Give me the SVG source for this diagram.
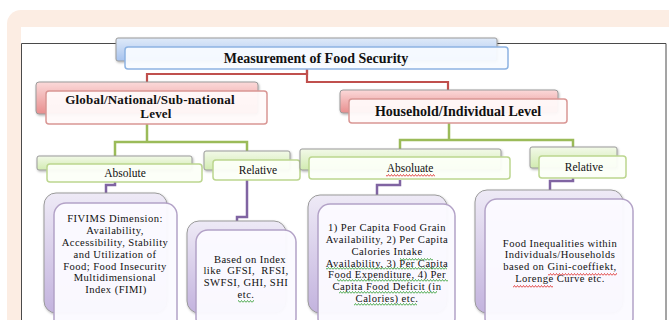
<svg xmlns="http://www.w3.org/2000/svg" width="669" height="320" viewBox="0 0 669 320">
<defs>
<linearGradient id="gBlue" x1="0" y1="0" x2="0" y2="1"><stop offset="0" stop-color="#dfeaf9"/><stop offset="1" stop-color="#a7c3ee"/></linearGradient>
<linearGradient id="gRed" x1="0" y1="0" x2="0" y2="1"><stop offset="0" stop-color="#fbd9d9"/><stop offset="1" stop-color="#e88e8e"/></linearGradient>
<linearGradient id="gGreen" x1="0" y1="0" x2="0" y2="1"><stop offset="0" stop-color="#f2f9e8"/><stop offset="1" stop-color="#d2ebb1"/></linearGradient>
<linearGradient id="gPurple" x1="0" y1="0" x2="0" y2="1"><stop offset="0" stop-color="#eeeaf6"/><stop offset="1" stop-color="#c3b3de"/></linearGradient>
<filter id="sh" x="-10%" y="-10%" width="130%" height="140%"><feDropShadow dx="0.8" dy="1.2" stdDeviation="1" flood-color="#000" flood-opacity="0.3"/></filter>
<pattern id="sqR" width="3" height="3" patternUnits="userSpaceOnUse"><path d="M0,2.5 L1.5,0.5 L3,2.5" fill="none" stroke="#e03a3a" stroke-width="0.9"/></pattern>
<pattern id="sqG" width="3" height="3" patternUnits="userSpaceOnUse"><path d="M0,2.5 L1.5,0.5 L3,2.5" fill="none" stroke="#3fa43f" stroke-width="0.9"/></pattern>
</defs>
<style>
.back{stroke:#9a9a9a;stroke-width:1;filter:url(#sh)}
.fb{fill:#f8fbff;fill-opacity:0.95;stroke:#8db3e2;stroke-width:1.5}
.fr{fill:#fffafa;fill-opacity:0.95;stroke:#d99694;stroke-width:1.5}
.fg{fill:#fcfff8;fill-opacity:0.95;stroke:#bcd68f;stroke-width:1.5}
.fp{fill:#fbfaff;fill-opacity:0.97;stroke:#b3a2c7;stroke-width:1.5}
.h{font-family:"Liberation Serif","Times New Roman",serif;font-weight:bold;font-size:14px;fill:#111;text-anchor:middle}
.s{font-family:"Liberation Serif","Times New Roman",serif;font-size:11.5px;fill:#111;text-anchor:middle}
.t{font-family:"Liberation Serif","Times New Roman",serif;font-size:10.6px;letter-spacing:0.45px;fill:#111;text-anchor:middle;white-space:pre}
.cr{fill:none;stroke:#c0504d;stroke-width:2.2}
.cg{fill:none;stroke:#9bbb59;stroke-width:2.5}
.cp{fill:none;stroke:#8064a2;stroke-width:2.5}
</style>
<rect width="669" height="320" fill="#ffffff"/>
<rect x="7" y="10" width="720" height="400" rx="14" fill="#fcede3"/>
<rect x="21" y="27" width="660" height="300" fill="#ffffff"/>
<path d="M21.5,330 V43.5 H666 V330" fill="none" stroke="#4a4a4a" stroke-width="1"/>

<g id="connectors">
<path class="cr" d="M307,69 V74 H147 V82"/>
<path class="cr" d="M307,69 V82 H448 V90"/>
<path class="cg" d="M147,124 V142 M115,156 V142 H247 V151"/>
<path class="cg" d="M449,123 V140 M400,149 V140 H573 V147"/>
<path class="cp" d="M115,182 V185 H106 V193"/>
<path class="cp" d="M247,180 V217 H237 V221"/>
<path class="cp" d="M400,180 V185 H377 V195"/>
<path class="cp" d="M573,178 V181 H550 V190"/>
</g>

<g id="node-top">
<rect class="back" x="116" y="38" width="381" height="23" rx="2" fill="url(#gBlue)"/>
<rect class="fb" x="125" y="47" width="383" height="22" rx="3"/>
<text class="h" x="316" y="63">Measurement of Food Security</text>
</g>

<g id="node-global">
<rect class="back" x="36" y="82" width="222" height="32" rx="3" fill="url(#gRed)"/>
<rect class="fr" x="46" y="91" width="221" height="33" rx="3"/>
<text class="h" style="font-size:13px;letter-spacing:0.2px"><tspan x="150" y="103.5">Global/National/Sub-national</tspan><tspan x="156" y="118">Level</tspan></text>
</g>

<g id="node-household">
<rect class="back" x="340" y="90" width="218" height="23" rx="3" fill="url(#gRed)"/>
<rect class="fr" x="349" y="99" width="218" height="24" rx="3"/>
<text class="h" x="458" y="115.5">Household/Individual Level</text>
</g>

<g id="node-abs-left">
<rect class="back" x="37" y="156" width="155" height="14" rx="2" fill="url(#gGreen)"/>
<rect class="fg" x="47" y="164" width="155" height="18" rx="3"/>
<text class="s" x="125" y="177">Absolute</text>
</g>

<g id="node-rel-left">
<rect class="back" x="204" y="151" width="86" height="19" rx="2" fill="url(#gGreen)"/>
<rect class="fg" x="213" y="160" width="87" height="20" rx="3"/>
<text class="s" x="258" y="174">Relative</text>
</g>

<g id="node-abs-right">
<rect class="back" x="300" y="149" width="201" height="21" rx="2" fill="url(#gGreen)"/>
<rect class="fg" x="309" y="157" width="201" height="22" rx="3"/>
<text class="s" x="410" y="172">Absoluate</text>
<rect x="386" y="174" width="49" height="3" fill="url(#sqR)"/>
</g>

<g id="node-rel-right">
<rect class="back" x="530" y="147" width="87" height="21" rx="2" fill="url(#gGreen)"/>
<rect class="fg" x="539" y="156" width="87" height="22" rx="3"/>
<text class="s" x="584" y="171">Relative</text>
</g>

<g id="node-fivims">
<rect class="back" x="44" y="193" width="123" height="120" rx="12" fill="url(#gPurple)"/>
<rect class="fp" x="54" y="203" width="123" height="130" rx="12"/>
<text class="t"><tspan x="115" y="222.3">FIVIMS Dimension:</tspan><tspan x="115" y="234.1">Availability,</tspan><tspan x="115" y="245.9">Accessibility, Stability</tspan><tspan x="115" y="257.7">and Utilization of</tspan><tspan x="115" y="269.5">Food; Food Insecurity</tspan><tspan x="115" y="281.3">Multidimensional</tspan><tspan x="116" y="293.1">Index (FIMI)</tspan></text>
</g>

<g id="node-index">
<rect class="back" x="187" y="221" width="99" height="92" rx="12" fill="url(#gPurple)"/>
<rect class="fp" x="196" y="230" width="100" height="100" rx="12"/>
<text class="t"><tspan x="250" y="262.6">Based on Index</tspan><tspan x="246" y="274.4">like  GFSI,  RFSI,</tspan><tspan x="246" y="286.2">SWFSI, GHI, SHI</tspan><tspan x="246" y="298">etc.</tspan></text>
<rect x="238" y="300" width="16" height="3" fill="url(#sqG)"/>
</g>

<g id="node-percapita">
<rect class="back" x="308" y="195" width="139" height="118" rx="12" fill="url(#gPurple)"/>
<rect class="fp" x="318" y="204" width="137" height="126" rx="12"/>
<text class="t"><tspan x="387" y="231">1) Per Capita Food Grain</tspan><tspan x="387" y="242.9">Availability, 2) Per Capita</tspan><tspan x="387" y="254.8">Calories Intake</tspan><tspan x="387" y="266.6">Availability, 3) Per Capita</tspan><tspan x="387" y="278.4">Food Expenditure, 4) Per</tspan><tspan x="387" y="290.2">Capita Food Deficit (in</tspan><tspan x="387" y="302">Calories) etc.</tspan></text>
<rect x="400" y="258" width="33" height="3" fill="url(#sqG)"/>
<rect x="326" y="267" width="121" height="3" fill="url(#sqG)"/>
<rect x="337" y="279" width="111" height="3" fill="url(#sqG)"/>
<rect x="339" y="291" width="98" height="3" fill="url(#sqG)"/>
<rect x="354" y="303" width="63" height="3" fill="url(#sqG)"/>
</g>

<g id="node-inequality">
<rect class="back" x="475" y="190" width="148" height="123" rx="12" fill="url(#gPurple)"/>
<rect class="fp" x="485" y="199" width="148" height="131" rx="12"/>
<text class="t"><tspan x="560" y="246.5">Food Inequalities within</tspan><tspan x="560" y="258.3">Individuals/Households</tspan><tspan x="560" y="270.1">based on Gini-coeffiekt,</tspan><tspan x="560" y="281.9">Lorenge Curve etc.</tspan></text>
<rect x="548" y="273" width="69" height="3" fill="url(#sqR)"/>
<rect x="513" y="285" width="40" height="3" fill="url(#sqR)"/>
</g>
</svg>
